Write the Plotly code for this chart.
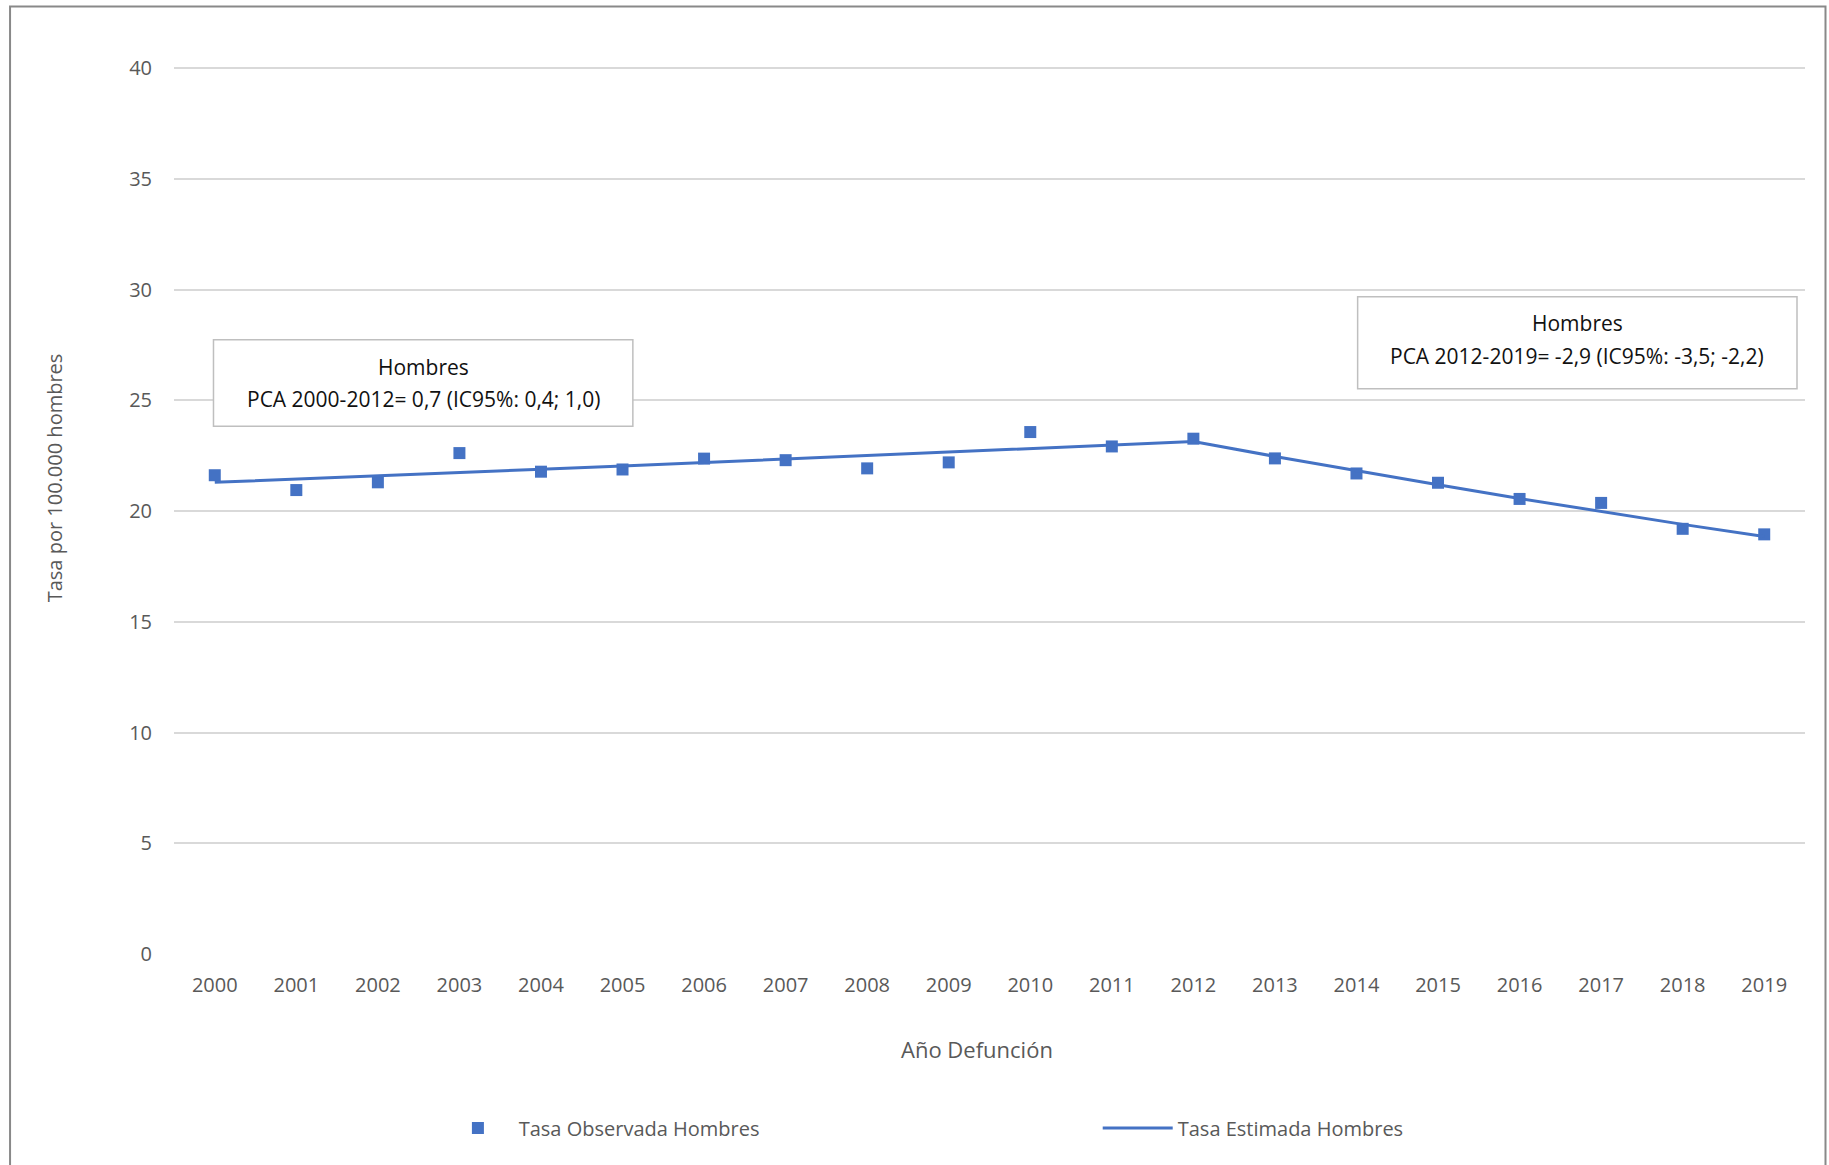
import plotly.graph_objects as go

years = list(range(2000, 2020))
tasa_observada = [21.62, 20.95, 21.30, 22.62, 21.78, 21.88, 22.37, 22.30, 21.93, 22.20,
                  23.57, 22.92, 23.27, 22.38, 21.70, 21.28, 20.55, 20.37, 19.20, 18.95]
tasa_estimada = [21.30, 21.44, 21.59, 21.74, 21.89, 22.04, 22.20, 22.35, 22.51, 22.67,
                 22.83, 22.98, 23.14, 22.47, 21.82, 21.19, 20.57, 19.98, 19.40, 18.85]
y_ticks = [0, 5, 10, 15, 20, 25, 30, 35, 40]

BLUE = "#4472C4"
GRAY_TXT = "#595959"
FONT = "Open Sans"

W, H = 1829, 1165
L, R, T, B = 174, 23.5, 65.5, 211
PW = W - L - R
PH = H - T - B


def px(x):
    return (x - L) / PW


def py(y):
    return (H - B - y) / PH


fig = go.Figure()
fig.add_trace(go.Scatter(
    x=years, y=tasa_observada, mode="markers", name="&nbsp;&nbsp;&nbsp;&nbsp;Tasa Observada Hombres",
    marker=dict(symbol="square", size=12, color=BLUE), legend="legend", showlegend=True,
))
fig.add_trace(go.Scatter(
    x=years, y=tasa_estimada, mode="lines", name="Tasa Estimada Hombres",
    line=dict(color=BLUE, width=3), legend="legend2", showlegend=True,
))

shapes = []
annotations = []

# outer chart frame
shapes.append(dict(type="rect", xref="paper", yref="paper",
                   x0=px(10), x1=px(1826), y0=py(1180), y1=py(6),
                   line=dict(color="#898989", width=2), layer="below"))

boxes = [
    dict(x0=213.5, x1=633, y0=339.5, y1=426, cx=423.3, l1=366.5, l2=398.5,
         t1="Hombres", t2="PCA 2000-2012= 0,7 (IC95%: 0,4; 1,0)"),
    dict(x0=1358, x1=1797.5, y0=296.3, y1=388.5, cx=1577.7, l1=323, l2=355.5,
         t1="Hombres", t2="PCA 2012-2019= -2,9 (IC95%: -3,5; -2,2)"),
]
for b in boxes:
    shapes.append(dict(type="rect", xref="paper", yref="paper",
                       x0=px(b["x0"]), x1=px(b["x1"]), y0=py(b["y1"]), y1=py(b["y0"]),
                       line=dict(color="#BFBFBF", width=1.5), fillcolor="white", layer="above"))
    for txt, yy in ((b["t1"], b["l1"]), (b["t2"], b["l2"])):
        annotations.append(dict(xref="paper", yref="paper", x=px(b["cx"]), y=py(yy),
                                text=txt, showarrow=False, xanchor="center", yanchor="middle",
                                font=dict(family=FONT, size=21, color="#111111")))

# axis titles
annotations.append(dict(xref="paper", yref="paper", x=px(977.5), y=py(1049),
                        text="Año Defunción", showarrow=False, xanchor="center", yanchor="middle",
                        font=dict(family=FONT, size=22, color=GRAY_TXT)))
annotations.append(dict(xref="paper", yref="paper", x=px(54), y=py(478),
                        text="Tasa por 100.000 hombres", showarrow=False, textangle=-90,
                        xanchor="center", yanchor="middle",
                        font=dict(family=FONT, size=20, color=GRAY_TXT)))

fig.update_layout(
    width=W, height=H,
    margin=dict(l=L, r=R, t=T, b=B, autoexpand=False),
    paper_bgcolor="white", plot_bgcolor="white",
    font=dict(family=FONT, size=20, color=GRAY_TXT),
    shapes=shapes, annotations=annotations,
    showlegend=True,
    legend=dict(orientation="h", x=px(458), y=py(1128), xanchor="left", yanchor="middle",
                font=dict(family=FONT, size=20, color=GRAY_TXT), bgcolor="rgba(0,0,0,0)",
                visible=True),
    legend2=dict(orientation="h", x=px(1098), y=py(1128), xanchor="left", yanchor="middle",
                 itemwidth=70,
                 font=dict(family=FONT, size=20, color=GRAY_TXT), bgcolor="rgba(0,0,0,0)",
                 visible=True),
    hovermode=False,
)
fig.update_xaxes(range=[1999.5, 2019.5], tickvals=years, ticktext=[str(y) for y in years],
                 showgrid=False, zeroline=False, showline=False, ticks="",
                 ticklabelstandoff=17, tickfont=dict(family=FONT, size=20, color=GRAY_TXT))
fig.update_yaxes(range=[0, 40.1], tickvals=y_ticks, showgrid=True, gridcolor="#D9D9D9", gridwidth=1.5,
                 zeroline=False, showline=False, ticks="", ticklabelstandoff=21,
                 tickfont=dict(family=FONT, size=20, color=GRAY_TXT))

fig.write_html("out.html", config={"displayModeBar": False},
               post_script="document.body.style.margin='0';document.body.style.overflow='hidden';")
